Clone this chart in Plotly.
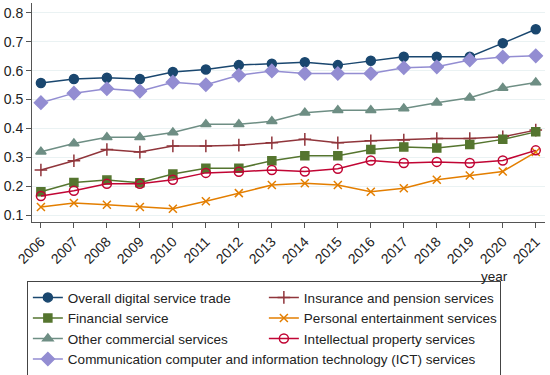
import plotly.graph_objects as go

years = list(range(2006, 2022))

overall = [0.557, 0.571, 0.575, 0.571, 0.595, 0.604, 0.619, 0.624, 0.629, 0.619, 0.634, 0.648, 0.648, 0.648, 0.695, 0.743]
insurance = [0.256, 0.288, 0.327, 0.318, 0.339, 0.339, 0.342, 0.350, 0.362, 0.350, 0.357, 0.360, 0.365, 0.365, 0.371, 0.394]
financial = [0.181, 0.213, 0.221, 0.212, 0.242, 0.262, 0.262, 0.288, 0.305, 0.305, 0.327, 0.336, 0.332, 0.344, 0.362, 0.388]
personal = [0.128, 0.142, 0.136, 0.128, 0.122, 0.148, 0.176, 0.204, 0.210, 0.204, 0.181, 0.193, 0.222, 0.237, 0.251, 0.318]
other_comm = [0.319, 0.348, 0.369, 0.369, 0.386, 0.414, 0.414, 0.425, 0.454, 0.463, 0.463, 0.469, 0.489, 0.506, 0.540, 0.559]
intellectual = [0.166, 0.184, 0.208, 0.208, 0.222, 0.246, 0.250, 0.256, 0.251, 0.260, 0.289, 0.280, 0.284, 0.280, 0.289, 0.324]
ict = [0.489, 0.522, 0.537, 0.529, 0.560, 0.551, 0.584, 0.599, 0.590, 0.590, 0.590, 0.610, 0.613, 0.637, 0.647, 0.651]

y_ticks = [0.1, 0.2, 0.3, 0.4, 0.5, 0.6, 0.7, 0.8]

series = [
    ("Overall digital service trade", overall, "#1a476f", "circle", 9),
    ("Insurance and pension services", insurance, "#90353b", "cross-thin", 9),
    ("Financial service", financial, "#55752f", "square", 8),
    ("Personal entertainment services", personal, "#e37e00", "x-thin", 8),
    ("Other commercial services", other_comm, "#6e8e84", "triangle-up", 9),
    ("Intellectual property services", intellectual, "#c10534", "circle-open", 9),
    ("Communication computer and information technology (ICT) services", ict, "#938dd2", "diamond", 10),
]

fig = go.Figure()
for name, vals, color, sym, size in series:
    fig.add_trace(go.Scatter(
        x=years, y=vals, name=name, mode="lines+markers",
        line=dict(color=color, width=1.5),
        marker=dict(symbol=sym, size=size, color=color,
                    line=dict(color=color, width=1.5)),
    ))

font = "Liberation Sans, Arial, sans-serif"
fig.update_layout(
    width=550, height=375,
    margin=dict(l=32, r=5, t=3, b=153, autoexpand=False),
    paper_bgcolor="white", plot_bgcolor="white",
    font=dict(family=font, size=14, color="#222222"),
    showlegend=True,
    legend=dict(
        orientation="h", x=-0.01, xanchor="left", y=-0.27, yanchor="top",
        entrywidth=191, entrywidthmode="pixels",
        bordercolor="#444444", borderwidth=1,
        font=dict(family=font, size=13.5, color="#222222"),
        itemwidth=30, tracegroupgap=0,
    ),
    xaxis=dict(
        range=[2005.73, 2021.28], tickmode="array", tickvals=years,
        ticktext=[str(y) for y in years], tickangle=-45,
        showgrid=False, zeroline=False,
        showline=True, linecolor="#555555", linewidth=1,
        ticks="outside", ticklen=5, tickcolor="#555555",
    ),
    yaxis=dict(
        range=[0.076, 0.834], tickmode="array", tickvals=y_ticks,
        ticktext=[f"{v:.1f}" for v in y_ticks],
        showgrid=True, gridcolor="#eaf2f3", gridwidth=1, zeroline=False,
        showline=True, linecolor="#555555", linewidth=1,
        ticks="outside", ticklen=5, tickcolor="#555555",
    ),
    annotations=[dict(
        text="year", xref="paper", yref="paper", x=0.932, y=-0.205,
        xanchor="right", yanchor="top", showarrow=False,
        font=dict(family=font, size=13.5, color="#222222"),
    )],
)

fig.write_html("out.html", config={"displayModeBar": False},
               post_script="document.body.style.margin='0';")
